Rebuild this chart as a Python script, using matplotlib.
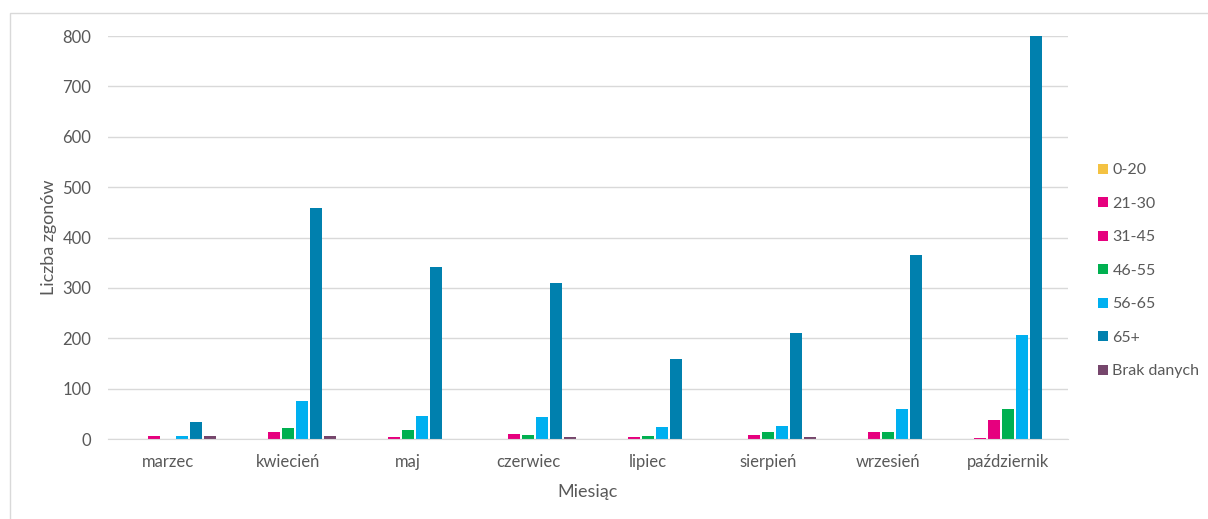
import numpy as np
import matplotlib.pyplot as plt
from matplotlib.patches import Rectangle

# months (categories)
months = ["marzec", "kwiecień", "maj", "czerwiec", "lipiec", "sierpień", "wrzesień", "październik"]

# deaths per age group
age_0_20 = [0, 0, 0, 0, 0, 0, 0, 0]
age_21_30 = [0, 0, 0, 0, 0, 0, 0, 2]
age_31_45 = [6, 13, 3, 9, 3, 7, 13, 38]
age_46_55 = [0, 21, 18, 8, 5, 14, 14, 59]
age_56_65 = [5, 76, 46, 43, 24, 26, 59, 207]
age_65plus = [33, 458, 341, 310, 159, 210, 365, 800]
no_data = [5, 5, 0, 3, 0, 3, 0, 0]

series_labels = ["0-20", "21-30", "31-45", "46-55", "56-65", "65+", "Brak danych"]
series_values = [age_0_20, age_21_30, age_31_45, age_46_55, age_56_65, age_65plus, no_data]
series_colors = ["#F4C242", "#E6007E", "#E6007E", "#00B050", "#00B0F0", "#0080AE", "#76466C"]

plt.rcParams['font.family'] = ['Lato', 'DejaVu Sans']

fig = plt.figure(figsize=(12.08, 5.19), dpi=100)
ax = fig.add_axes([108 / 1208, 80 / 519, 960 / 1208, 403 / 519])

# light border around the chart area
fig.patches.append(Rectangle((10 / 1208, -0.05), 1.2, (519 - 13) / 519 + 0.05,
                             transform=fig.transFigure, fill=False,
                             edgecolor="#d9d9d9", linewidth=1))

x = np.arange(len(months))
step = 0.117
width = 0.098

# draw each series as a group of bars
for i, (label, vals, col) in enumerate(zip(series_labels, series_values, series_colors)):
    ax.bar(x + (i - 3) * step, vals, width, color=col, label=label, zorder=3)

ax.set_xlim(-0.5, len(months) - 0.5)
ax.set_ylim(0, 800)
ax.set_yticks(range(0, 801, 100))
ax.set_xticks(x)
ax.set_xticklabels(months)

# gridlines and axis styling
ax.yaxis.grid(True, color="#d9d9d9", linewidth=1, zorder=0)
for side in ["top", "right", "left"]:
    ax.spines[side].set_visible(False)
ax.spines["bottom"].set_color("#d9d9d9")
ax.spines["bottom"].set_zorder(4)
ax.tick_params(axis="both", length=0, colors="#595959", labelsize=12)
ax.tick_params(axis="y", pad=12)
ax.tick_params(axis="x", pad=11)

ax.set_ylabel("Liczba zgonów", color="#595959", fontsize=13, labelpad=4)
ax.set_xlabel("Miesiąc", color="#595959", fontsize=13, labelpad=10)

leg = fig.legend(loc="center left", bbox_to_anchor=(0.897, 0.478), frameon=False,
                 fontsize=11.5, handlelength=0.6, handleheight=0.6,
                 handletextpad=0.3, labelspacing=1.22)
for t in leg.get_texts():
    t.set_color("#595959")

plt.savefig("out.png", dpi=100)
